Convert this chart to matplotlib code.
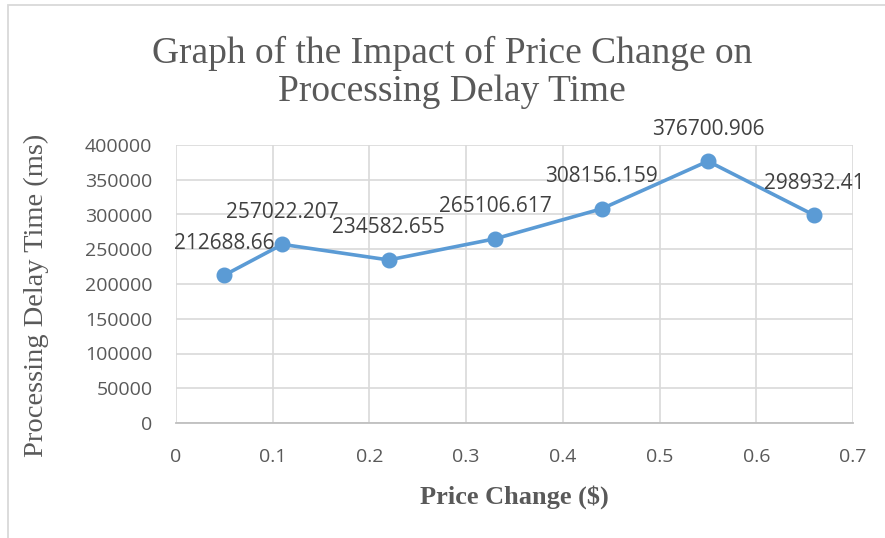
import matplotlib
matplotlib.use("Agg")
import matplotlib.pyplot as plt
from matplotlib.patches import Rectangle

# data
price_change = [0.05, 0.11, 0.22, 0.33, 0.44, 0.55, 0.66]
delay_ms = [212688.66, 257022.207, 234582.655, 265106.617, 308156.159, 376700.906, 298932.41]
point_labels = ["212688.66", "257022.207", "234582.655", "265106.617",
                "308156.159", "376700.906", "298932.41"]
x_ticks = [0, 0.1, 0.2, 0.3, 0.4, 0.5, 0.6, 0.7]
x_tick_labels = ["0", "0.1", "0.2", "0.3", "0.4", "0.5", "0.6", "0.7"]
y_ticks = [0, 50000, 100000, 150000, 200000, 250000, 300000, 350000, 400000]

BLUE = "#5B9BD5"
GRID = "#D9D9D9"
TXT = "#595959"
SANS = ["Open Sans", "DejaVu Sans"]
SERIF = ["Liberation Serif", "DejaVu Serif"]

fig = plt.figure(figsize=(8.85, 5.38), dpi=100)
ax = fig.add_axes([176 / 885, 1 - 423 / 538, 677 / 885, 278 / 538])

# chart frame (only top and left edges visible in the crop)
fig.patches.append(Rectangle((8 / 885, -0.1), 1.2, 1 - 5 / 538 + 0.1, transform=fig.transFigure,
                             fill=False, edgecolor="#D9D9D9", linewidth=1.3))

ax.plot(price_change, delay_ms, color=BLUE, lw=2.6, marker="o", markersize=10.5,
        markerfacecolor=BLUE, markeredgecolor=BLUE, zorder=3)

# data labels sit above each point
for xv, yv, lab in zip(price_change, delay_ms, point_labels):
    ax.annotate(lab, (xv, yv), xytext=(0, 32), textcoords="offset pixels",
                ha="center", va="center", fontsize=15, color="#404040", family=SANS)

ax.set_xlim(0, 0.7)
ax.set_ylim(0, 400000)
ax.set_xticks(x_ticks)
ax.set_xticklabels(x_tick_labels)
ax.set_yticks(y_ticks)
ax.grid(True, color=GRID, lw=1.2)
ax.set_axisbelow(True)
for s in ["top", "right", "left"]:
    ax.spines[s].set_visible(False)
ax.spines["bottom"].set_color("#BFBFBF")
ax.spines["bottom"].set_linewidth(1.3)
ax.tick_params(length=0, labelsize=14, colors=TXT, pad=17)
ax.tick_params(axis="x", pad=18)
for t in ax.get_xticklabels() + ax.get_yticklabels():
    t.set_family(SANS)

ax.set_ylabel("Processing Delay Time (ms)", family=SERIF, fontsize=20.5, color=TXT)
ax.yaxis.set_label_coords(-0.187, 0.46)
ax.set_xlabel("Price Change ($)", family=SERIF, fontsize=19, color=TXT, weight="bold", labelpad=14)

fig.text(452 / 885, 1 - 72 / 538, "Graph of the Impact of Price Change on\nProcessing Delay Time",
         ha="center", va="center", family=SERIF, fontsize=27, color=TXT, linespacing=1.13)

fig.savefig("out.png", dpi=100, facecolor="white")
